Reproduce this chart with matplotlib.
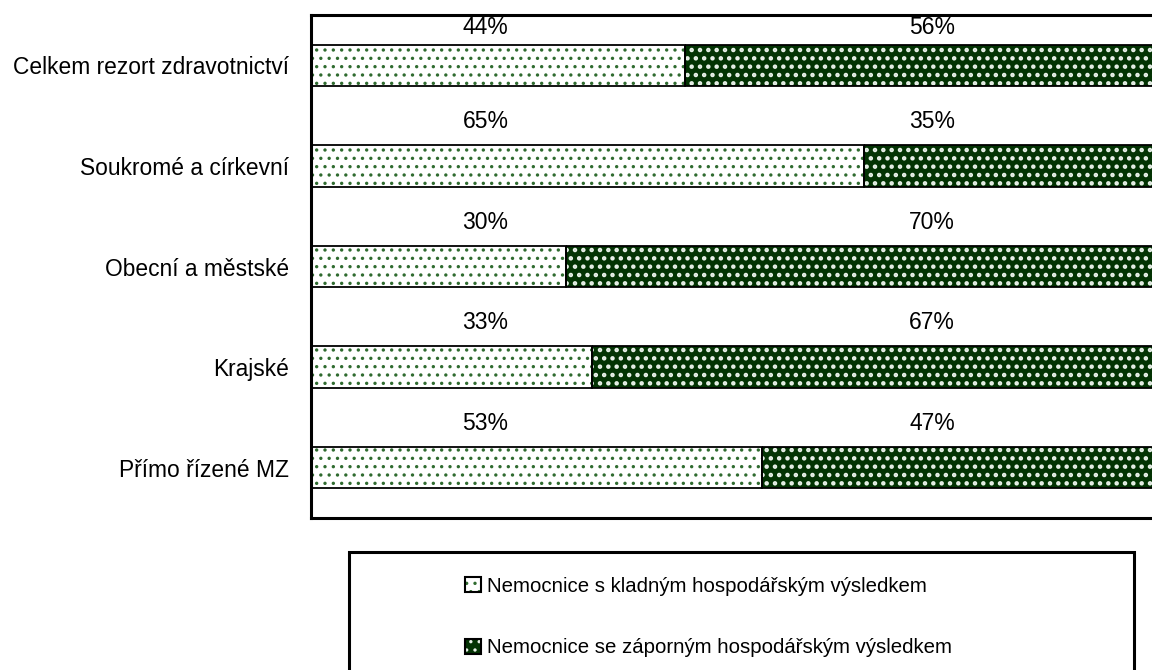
import matplotlib
matplotlib.use('Agg')
import matplotlib.pyplot as plt
from matplotlib.patches import Patch, Rectangle

plt.rcParams['font.family'] = ['Liberation Sans', 'DejaVu Sans']
plt.rcParams['hatch.linewidth'] = 1.2

# data (top to bottom)
categories = ['Celkem rezort zdravotnictví', 'Soukromé a církevní', 'Obecní a městské',
              'Krajské', 'Přímo řízené MZ']
positive = [44, 65, 30, 33, 53]
negative = [56, 35, 70, 67, 47]
series_names = ['Nemocnice s kladným hospodářským výsledkem',
                'Nemocnice se záporným hospodářským výsledkem']

light_face = 'white'
light_hatch = '#2f6b2f'
dark_face = '#033303'
dark_hatch = '#e8f0e8'

fig = plt.figure(figsize=(11.52, 6.7), dpi=100)
ax = fig.add_axes([311 / 1152, 152 / 670, 851 / 1152, 503 / 670])

y = list(range(len(categories)))
h = 0.41

# hatched fills (hatch colour comes from edgecolor), then black outlines on top
ax.barh(y, positive, height=h, color=light_face, edgecolor=light_hatch, hatch='..', linewidth=0)
with plt.rc_context({'hatch.linewidth': 2.0}):
    ax.barh(y, negative, left=positive, height=h, color=dark_face, edgecolor=dark_hatch,
            hatch='..', linewidth=0)
    h2_fill = Patch(facecolor=dark_face, edgecolor=dark_hatch, hatch='..', linewidth=0)
ax.barh(y, positive, height=h, fill=False, edgecolor='black', linewidth=1.3)
ax.barh(y, negative, left=positive, height=h, fill=False, edgecolor='black', linewidth=1.3)

# percentage labels above each bar
for i in y:
    off = 0.38 if i == 0 else 0.44
    ax.text(20.5, i - off, f'{positive[i]}%', ha='center', va='center', fontsize=16.5)
    ax.text(73, i - off, f'{negative[i]}%', ha='center', va='center', fontsize=16.5)

ax.set_xlim(0, 100)
ax.set_ylim(len(categories) - 0.5, -0.5)
ax.set_yticks(y)
ax.set_yticklabels(categories, fontsize=16.4)
ax.tick_params(axis='y', length=0, pad=16)
ax.set_xticks([])
for s in ['left', 'top', 'bottom', 'right']:
    ax.spines[s].set_linewidth(2.2)
    ax.spines[s].set_color('black')

# legend frame (runs past the bottom of the figure like in the source)
fig.patches.append(Rectangle((349 / 1152, -0.1), 785 / 1152, 0.1 + 118 / 670,
                             transform=fig.transFigure, fill=False,
                             edgecolor='black', linewidth=2.2))

h1 = (Patch(facecolor=light_face, edgecolor=light_hatch, hatch='..', linewidth=0),
      Patch(fill=False, edgecolor='black', linewidth=1.5))
h2 = (h2_fill, Patch(fill=False, edgecolor='black', linewidth=1.5))
fig.legend([h1, h2], series_names, loc='center left',
           bbox_to_anchor=(465 / 1152, 53 / 670), frameon=False, fontsize=14.7,
           handlelength=0.8, handleheight=0.8, handletextpad=0.3,
           labelspacing=2.1, borderpad=0, borderaxespad=0)

fig.savefig('out.png', dpi=100)
